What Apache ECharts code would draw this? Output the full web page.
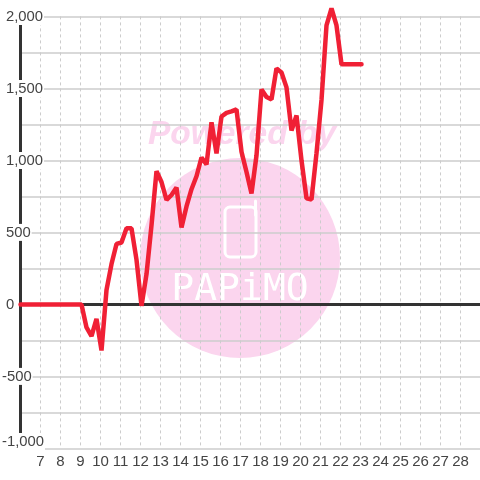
<!DOCTYPE html>
<html>
<head>
<meta charset="utf-8">
<style>html,body{margin:0;padding:0;background:#fff}#c{width:480px;height:480px}</style>
<script src="https://cdn.jsdelivr.net/npm/echarts@6/dist/echarts.min.js"></script>
</head>
<body>
<div id="c"></div>
<script>
const hours = [6.0,9.05,9.3,9.55,9.8,10.05,10.3,10.55,10.8,11.05,11.3,11.55,11.8,12.05,12.3,12.55,12.8,13.05,13.3,13.55,13.8,14.05,14.3,14.55,14.8,15.05,15.3,15.55,15.8,16.05,16.3,16.55,16.8,17.05,17.3,17.55,17.8,18.05,18.3,18.55,18.8,19.05,19.3,19.55,19.8,20.05,20.3,20.55,20.8,21.05,21.3,21.55,21.8,22.05,23.05];
const profit = [0,0,-160,-220,-100,-320,100,280,420,430,528,528,310,-10,210,550,925,850,725,760,812,535,680,800,890,1020,972,1264,1049,1305,1330,1340,1354,1060,920,771,1035,1493,1440,1424,1639,1611,1507,1208,1312,1000,736,729,1050,1420,1937,2055,1937,1667,1667];
const zeroX = [6,29];
const zeroY = [0,0];
const yTickLabels = {'2000':'2,000','1500':'1,500','1000':'1,000','500':'500','0':'0','-500':'-500','-1000':'-1,000'};
const xMin = 6, xMax = 29, yMin = -1000;
const watermarkTop = 'Powered by';
const watermarkLogo = 'PAPiMO';

const chart = echarts.init(document.getElementById('c'), null, {renderer:'canvas'});
const gridColor = '#cccccc', axisColor = '#333333', labelColor = '#444444', pink = '#fbd5ee';
const tok = {backgroundColor:'#ffffff',fontFamily:'Liberation Sans',fontSize:14.8,color:labelColor,lineHeight:16};
chart.setOption({
  animation:false,
  backgroundColor:'#ffffff',
  grid:{left:20.5,right:-0.5,top:16.4,bottom:31.6,containLabel:false,outerBoundsMode:'none'},
  graphic:{z:-1,elements:[
    {type:'circle',silent:true,shape:{cx:240,cy:258,r:100},style:{fill:pink}},
    {type:'text',silent:true,x:242,y:135,style:{text:watermarkTop,align:'center',verticalAlign:'middle',font:'italic bold 33.5px "Liberation Sans"',fill:pink}},
    {type:'rect',silent:true,shape:{x:225,y:207,width:31,height:50,r:5},style:{fill:'none',stroke:'#ffffff',lineWidth:3}},
    {type:'line',silent:true,shape:{x1:255.5,y1:201,x2:255.5,y2:215},style:{stroke:'#ffffff',lineWidth:3,lineCap:'round'}},
    {type:'text',silent:true,x:240,y:290,style:{text:watermarkLogo,align:'center',verticalAlign:'middle',font:'38px "DejaVu Sans Mono"',fill:'#ffffff'}}
  ]},
  xAxis:{
    type:'value',min:xMin,max:xMax,interval:1,position:'bottom',
    axisLine:{show:false},axisTick:{show:false},
    axisLabel:{fontFamily:'Liberation Sans',fontSize:15,color:labelColor,margin:6,
      formatter:v=>(v===xMin||v===xMax)?'':String(v)},
    splitLine:{show:true,lineStyle:{color:gridColor,width:1,type:[3,3]}}
  },
  yAxis:{
    type:'value',min:yMin,max:2000,interval:250,
    axisLine:{show:true,onZero:false,lineStyle:{color:axisColor,width:3}},
    axisTick:{show:false},
    axisLabel:{align:'left',margin:18.5,fontFamily:'Liberation Sans',fontSize:14.8,color:labelColor,
      formatter:v=>{
        const s=yTickLabels[String(v)];
        if(!s) return '';
        if(v===yMin) return '{b|'+s+'}\n{s| }';
        return v<0?'{b|'+s+'}':'{a|'+s+'}';
      },
      rich:{
        a:Object.assign({padding:[2,1,0,4]},tok),
        b:Object.assign({padding:[2,1,0,0]},tok),
        s:{fontSize:10,lineHeight:14,height:14}
      }
    },
    splitLine:{show:true,lineStyle:{color:gridColor,width:1.5}}
  },
  series:[{
    type:'line',data:zeroX.map((x,i)=>[x,zeroY[i]]),showSymbol:false,silent:true,z:4,
    lineStyle:{color:axisColor,width:3}
  },{
    type:'line',data:hours.map((h,i)=>[h,profit[i]]),
    showSymbol:false,clip:false,z:5,
    lineStyle:{color:'#f02035',width:4.5,cap:'round',join:'bevel'}
  }]
});
</script>
</body>
</html>
